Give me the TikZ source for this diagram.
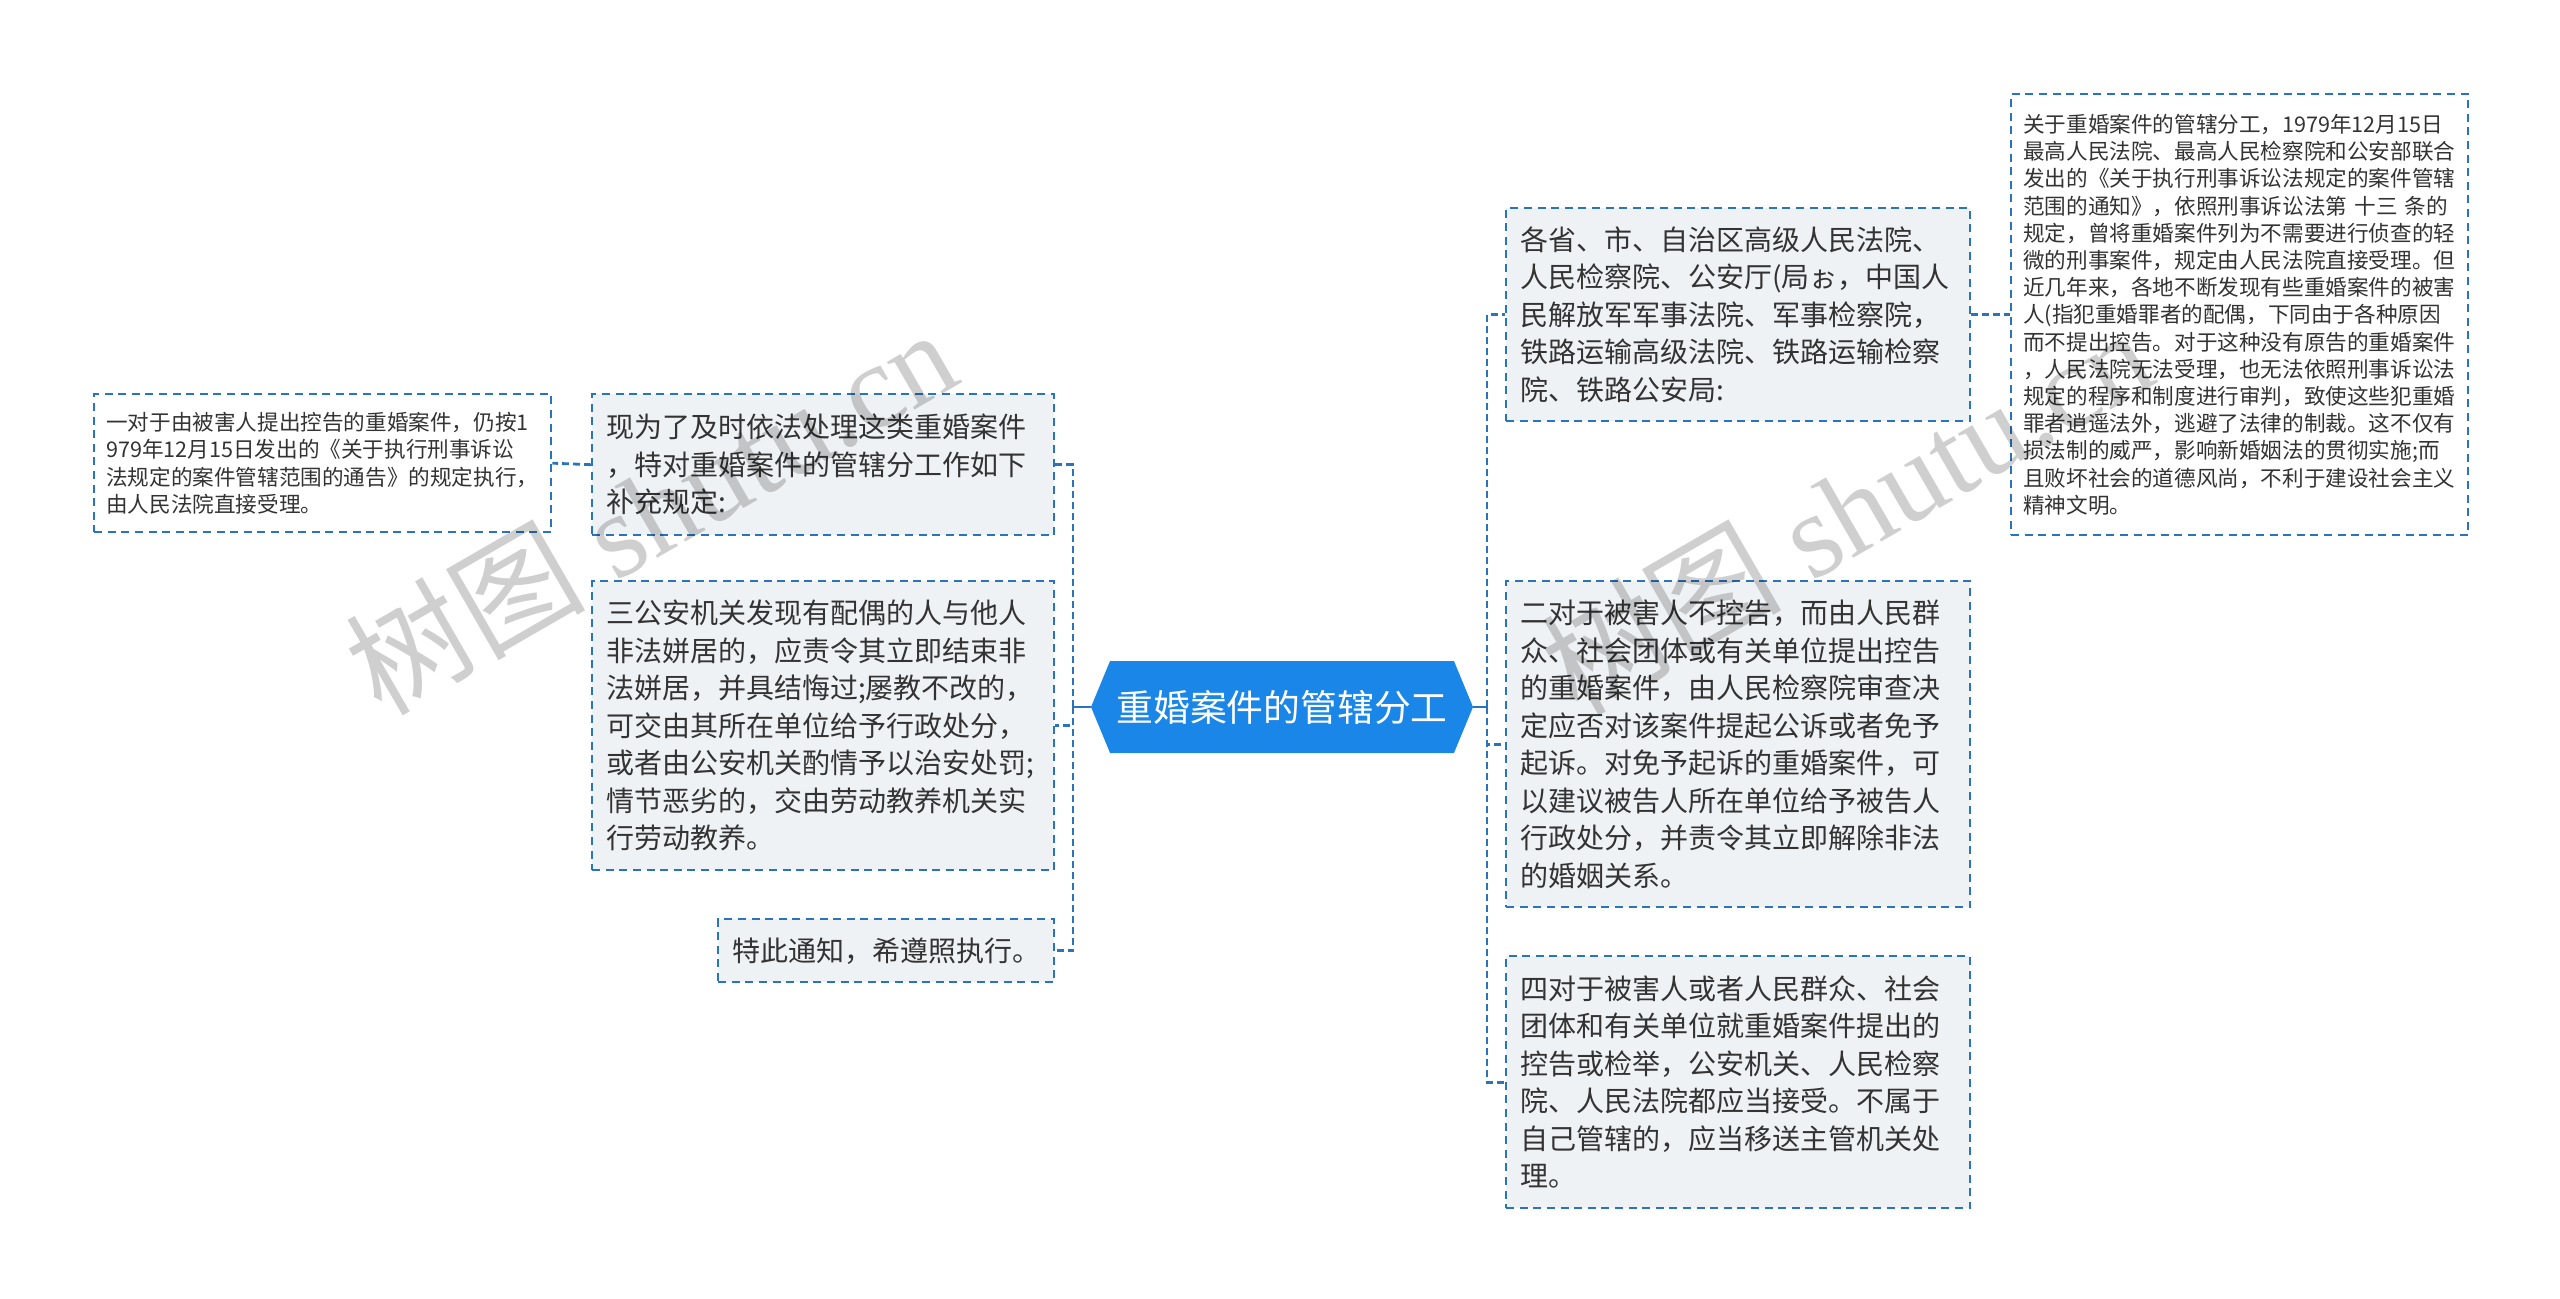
\documentclass[tikz,border=0pt]{standalone}
\usepackage{fontspec}
\setmainfont{Liberation Serif}
\newfontfamily\cjk{Noto Sans CJK SC}
\usetikzlibrary{shapes.symbols}

\definecolor{linkblue}{HTML}{2A74BC}
\definecolor{rootblue}{HTML}{1A86E8}
\definecolor{boxgray}{HTML}{EFF2F5}
\definecolor{textgray}{HTML}{333333}

\tikzset{
  leaf/.style={draw=linkblue, line width=1.2pt, dash pattern=on 4pt off 2.8pt,
    fill=boxgray, anchor=north west, align=left, inner xsep=7pt, inner ysep=0pt,
    text=textgray, font=\cjk\fontsize{14}{18.75}\selectfont},
  note/.style={leaf, fill=white, inner xsep=6pt, font=\cjk\fontsize{10.8}{13.6}\selectfont},
  root/.style={shape=signal, signal to=west and east, signal pointer angle=135,
    fill=rootblue, text=white, minimum width=191pt, minimum height=46pt, inner sep=0pt,
    font=\cjk\fontsize{18.4}{20}\selectfont},
  link/.style={draw=linkblue, line width=1.4pt, dash pattern=on 3.5pt off 2pt},
  wmark/.style={rotate=30, text=black, opacity=0.19, font=\fontsize{60}{60}\selectfont}
}

\begin{document}
\begin{tikzpicture}[x=0.5pt, y=-0.5pt]
\useasboundingbox (0,0) rectangle (2560,1299);

\node[root] (root) at (1282,707) {重婚案件的管辖分工};

% left side
\node[leaf, minimum width=231pt, minimum height=70.5pt, text width=217pt] (l1) at (591,393)
  {现为了及时依法处理这类重婚案件\\，特对重婚案件的管辖分工作如下\\补充规定:};
\node[leaf, minimum width=231pt, minimum height=144.5pt, text width=217pt] (l2) at (591,580)
  {三公安机关发现有配偶的人与他人\\非法姘居的，应责令其立即结束非\\法姘居，并具结悔过;屡教不改的，\\可交由其所在单位给予行政处分，\\或者由公安机关酌情予以治安处罚;\\情节恶劣的，交由劳动教养机关实\\行劳动教养。};
\node[leaf, minimum width=168pt, minimum height=31.5pt, text width=154pt] (l3) at (717,918)
  {特此通知，希遵照执行。};
\node[note, minimum width=228.5pt, minimum height=69pt, text width=216.5pt] (l1a) at (93,393)
  {一对于由被害人提出控告的重婚案件，仍按1\\979年12月15日发出的《关于执行刑事诉讼\\法规定的案件管辖范围的通告》的规定执行，\\由人民法院直接受理。};

% right side
\node[leaf, minimum width=232pt, minimum height=106.5pt, text width=218pt] (r1) at (1505,207)
  {各省、市、自治区高级人民法院、\\人民检察院、公安厅(局ぉ，中国人\\民解放军军事法院、军事检察院，\\铁路运输高级法院、铁路运输检察\\院、铁路公安局:};
\node[leaf, minimum width=232pt, minimum height=163pt, text width=218pt] (r2) at (1505,580)
  {二对于被害人不控告，而由人民群\\众、社会团体或有关单位提出控告\\的重婚案件，由人民检察院审查决\\定应否对该案件提起公诉或者免予\\起诉。对免予起诉的重婚案件，可\\以建议被告人所在单位给予被告人\\行政处分，并责令其立即解除非法\\的婚姻关系。};
\node[leaf, minimum width=232pt, minimum height=126pt, text width=218pt] (r3) at (1505,955)
  {四对于被害人或者人民群众、社会\\团体和有关单位就重婚案件提出的\\控告或检举，公安机关、人民检察\\院、人民法院都应当接受。不属于\\自己管辖的，应当移送主管机关处\\理。};
\node[note, minimum width=228.5pt, minimum height=220.5pt, text width=216.5pt] (r1a) at (2010,93)
  {关于重婚案件的管辖分工，1979年12月15日\\最高人民法院、最高人民检察院和公安部联合\\发出的《关于执行刑事诉讼法规定的案件管辖\\范围的通知》，依照刑事诉讼法第~十三~条的\\规定，曾将重婚案件列为不需要进行侦查的轻\\微的刑事案件，规定由人民法院直接受理。但\\近几年来，各地不断发现有些重婚案件的被害\\人(指犯重婚罪者的配偶，下同由于各种原因\\而不提出控告。对于这种没有原告的重婚案件\\，人民法院无法受理，也无法依照刑事诉讼法\\规定的程序和制度进行审判，致使这些犯重婚\\罪者逍遥法外，逃避了法律的制裁。这不仅有\\损法制的威严，影响新婚姻法的贯彻实施;而\\且败坏社会的道德风尚，不利于建设社会主义\\精神文明。};

% connectors
\coordinate (ltrunk) at (1073,707);
\coordinate (rtrunk) at (1487,707);
\draw[link, solid] (root.west) -- (ltrunk);
\draw[link] (ltrunk) |- (l1.east);
\draw[link] (ltrunk) |- (l2.east);
\draw[link] (ltrunk) |- (l3.east);
\draw[link] (l1.west) -- (l1a.east);
\draw[link, solid] (root.east) -- (rtrunk);
\draw[link] (rtrunk) |- (r1.west);
\draw[link] (rtrunk) |- (r2.west);
\draw[link] (rtrunk) |- (r3.west);
\draw[link] (r1.east) -- (r1a.west);

% watermark
\node[wmark] (wm1) at (650,510) {{\cjk 树图} shutu.cn};
\node[wmark] (wm2) at (1846,510) {{\cjk 树图} shutu.cn};
\end{tikzpicture}
\end{document}
